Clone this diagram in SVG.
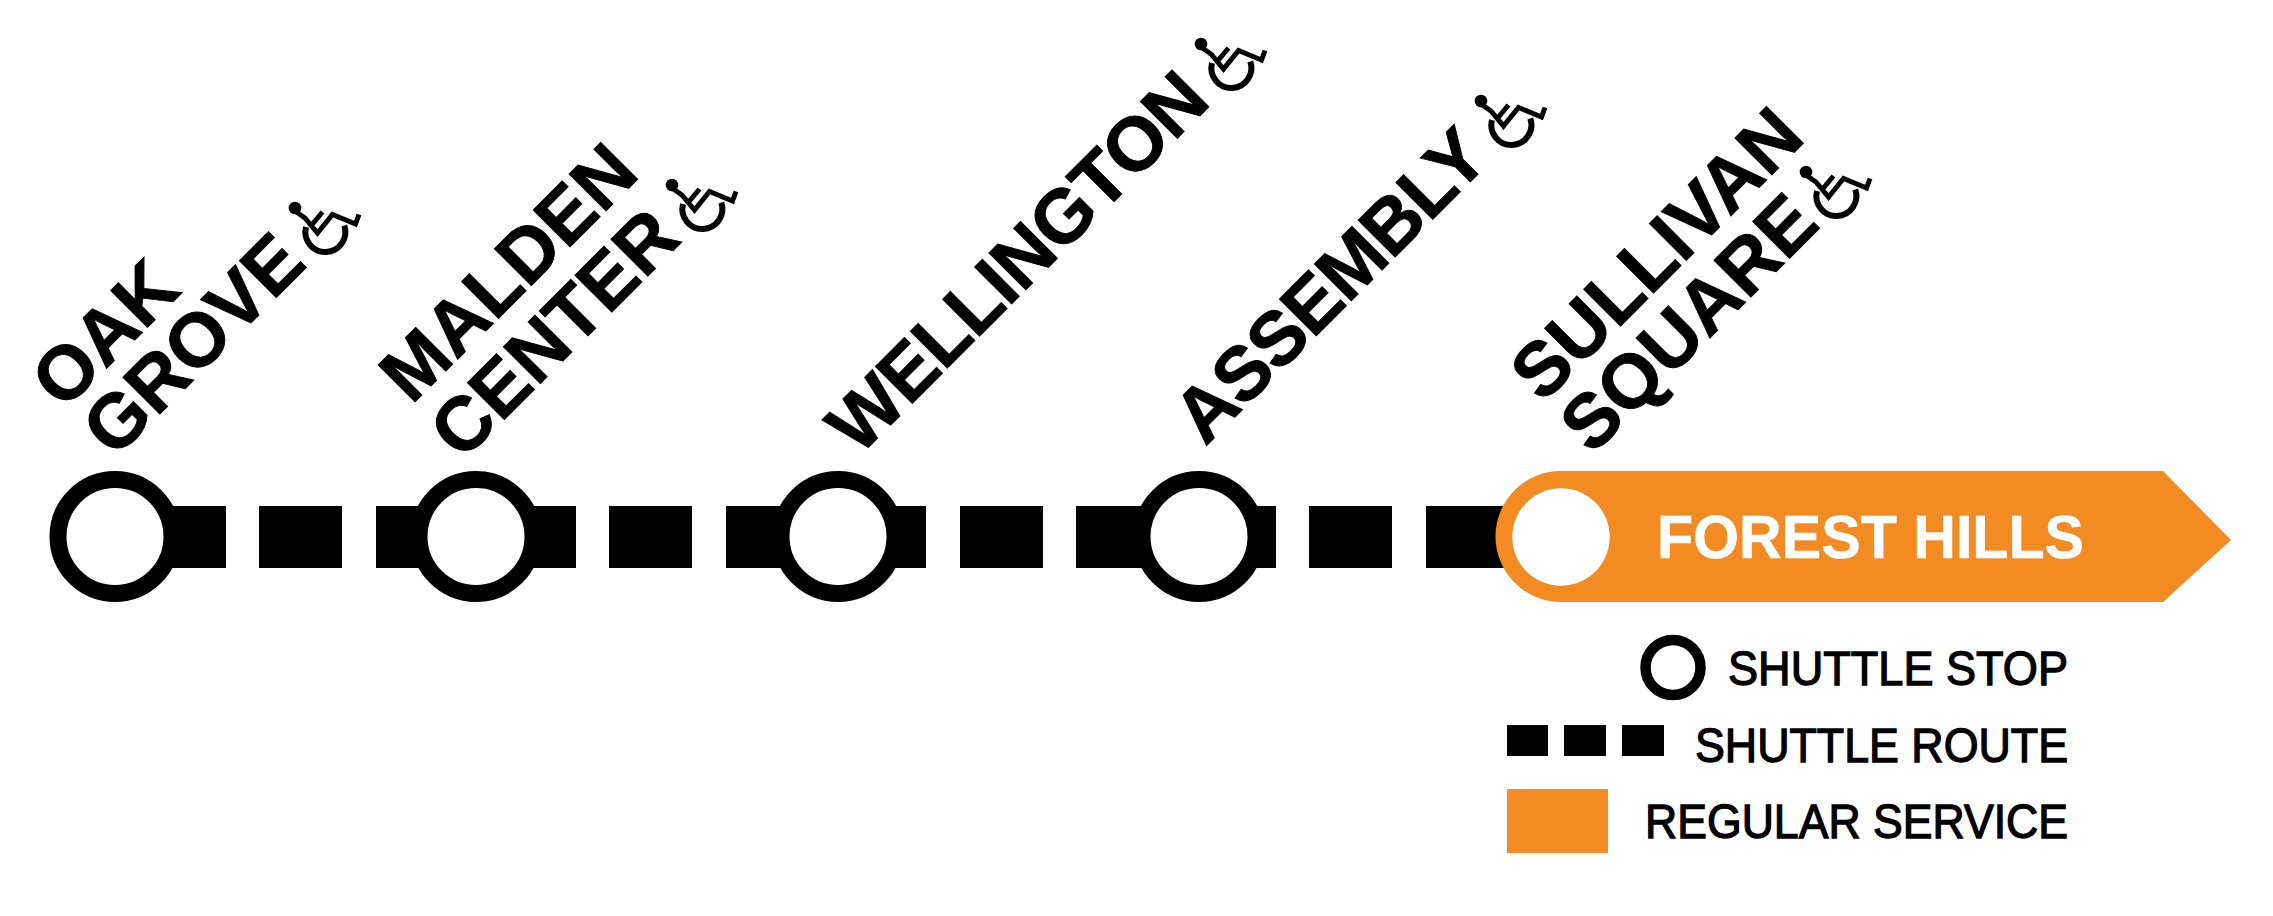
<svg xmlns="http://www.w3.org/2000/svg" width="2273" height="916" viewBox="0 0 2273 916">
<style>
text{font-family:"Liberation Sans",Arial,sans-serif}
.lbl{font-size:76px;font-weight:700;fill:#000;stroke:#000;stroke-width:.9px}
.leg{font-size:48px;fill:#000;stroke:#000;stroke-width:1.3px}
.stop{fill:#fff;stroke:#000;stroke-width:17px}
.dash{fill:#000}
.org{fill:#f28c22}
</style>
<defs>
<g id="wc">
<circle cx="0" cy="0" r="6.3" fill="#000"/>
<path d="M0 3L10 10L22.5 25L37.5 6.5L60.5 16L64 6.5M17.5 16L27.5 4" fill="none" stroke="#000" stroke-width="5"/>
<path d="M11 19A20 20 0 1 0 49.3 17.5" fill="none" stroke="#000" stroke-width="6"/>
</g>
</defs>
<rect width="2273" height="916" fill="#fff"/>
<g id="connectors">
<rect class="dash" x="142" y="506" width="84" height="62"/>
<rect class="dash" x="259" y="506" width="83" height="62"/>
<rect class="dash" x="376" y="506" width="83" height="62"/>
<rect class="dash" x="493" y="506" width="83" height="62"/>
<rect class="dash" x="609" y="506" width="83" height="62"/>
<rect class="dash" x="726" y="506" width="83" height="62"/>
<rect class="dash" x="843" y="506" width="83" height="62"/>
<rect class="dash" x="960" y="506" width="83" height="62"/>
<rect class="dash" x="1076" y="506" width="83" height="62"/>
<rect class="dash" x="1193" y="506" width="83" height="62"/>
<rect class="dash" x="1309" y="506" width="83" height="62"/>
<rect class="dash" x="1426" y="506" width="83" height="62"/>
</g>
<g id="oak-grove">
<circle class="stop" cx="115" cy="536.5" r="57"/>
<text class="lbl" transform="translate(63.5 411.5) rotate(-45)">OAK</text>
<text class="lbl" transform="translate(114.5 459.5) rotate(-45)">GROVE</text>
<use href="#wc" x="295" y="208"/>
</g>
<g id="malden-center">
<circle class="stop" cx="476" cy="536.5" r="57"/>
<text class="lbl" transform="translate(411.4 405.6) rotate(-45)">MALDEN</text>
<text class="lbl" transform="translate(462 462) rotate(-45)">CENTER</text>
<use href="#wc" x="672" y="185"/>
</g>
<g id="wellington">
<circle class="stop" cx="838" cy="536.5" r="57"/>
<text class="lbl" letter-spacing="-1" transform="translate(858.7 457) rotate(-45)">WELLINGTON</text>
<use href="#wc" x="1201" y="44"/>
</g>
<g id="assembly">
<circle class="stop" cx="1199" cy="536.5" r="57"/>
<text class="lbl" letter-spacing="-1.4" transform="translate(1205.3 447) rotate(-45)">ASSEMBLY</text>
<use href="#wc" x="1481" y="101"/>
</g>
<g id="sullivan-square">
<path class="org" d="M1561 471H2163L2231 540L2163 602H1561A65.5 65.5 0 0 1 1561 471Z"/>
<circle cx="1561" cy="537" r="48.7" fill="#fff"/>
<text class="lbl" transform="translate(1542.4 404.3) rotate(-45)">SULLIVAN</text>
<text class="lbl" transform="translate(1592 456) rotate(-45)">SQUARE</text>
<use href="#wc" x="1806" y="172"/>
<text x="1657" y="558" font-size="62" font-weight="700" fill="#fff" stroke="#fff" stroke-width=".6" textLength="427" lengthAdjust="spacingAndGlyphs">FOREST HILLS</text>
</g>
<g id="legend">
<circle cx="1673" cy="667.5" r="27.5" fill="#fff" stroke="#000" stroke-width="10.5"/>
<text class="leg" x="1728" y="685" textLength="340" lengthAdjust="spacingAndGlyphs">SHUTTLE STOP</text>
<rect class="dash" x="1507" y="725" width="41" height="31"/>
<rect class="dash" x="1564" y="725" width="42" height="31"/>
<rect class="dash" x="1622" y="725" width="42" height="31"/>
<text class="leg" x="1695" y="762" textLength="373" lengthAdjust="spacingAndGlyphs">SHUTTLE ROUTE</text>
<rect class="org" x="1507" y="789" width="101" height="64"/>
<text class="leg" x="1645" y="838" textLength="423" lengthAdjust="spacingAndGlyphs">REGULAR SERVICE</text>
</g>
</svg>
